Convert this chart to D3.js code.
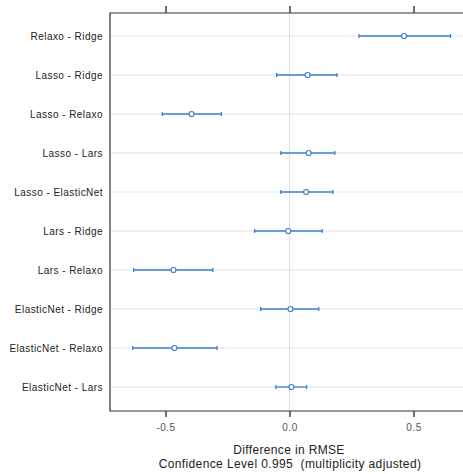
<!DOCTYPE html>
<html><head><meta charset="utf-8">
<script src="https://cdn.jsdelivr.net/npm/d3@7"></script>
<style>body{margin:0;background:#fff}svg{display:block}</style>
</head><body>
<script>
const comparisons = ["Relaxo - Ridge","Lasso - Ridge","Lasso - Relaxo","Lasso - Lars","Lasso - ElasticNet","Lars - Ridge","Lars - Relaxo","ElasticNet - Ridge","ElasticNet - Relaxo","ElasticNet - Lars"];
const estimates = [0.462, 0.073, -0.395, 0.077, 0.067, -0.005, -0.468, 0.004, -0.464, 0.008];
const lower = [0.280, -0.052, -0.513, -0.035, -0.035, -0.141, -0.628, -0.116, -0.632, -0.055];
const upper = [0.649, 0.191, -0.275, 0.183, 0.175, 0.132, -0.309, 0.118, -0.292, 0.069];
const xTicks = [-0.5, 0.0, 0.5];
const xTickLabels = ["-0.5", "0.0", "0.5"];
const xTitle = "Difference in RMSE";
const subTitle = "Confidence Level 0.995  (multiplicity adjusted)";

(function () {
const W = 463, H = 474;
const L = 110, T = 13, B = 411, R = 475;
const svg = d3.select("body").append("svg").attr("width", W).attr("height", H);
const x = d3.scaleLinear().domain([-0.5, 0.5]).range([165.5, 413.5]);
const y = d3.scalePoint().domain(comparisons).range([36, 387]);
const font = "'Liberation Sans', Arial, sans-serif";

// grid
svg.append("g").selectAll("line").data(comparisons).join("line")
  .attr("x1", L).attr("x2", R).attr("y1", d => y(d)).attr("y2", d => y(d))
  .attr("stroke", "#e3e3e3").attr("stroke-width", 1);
svg.append("line").attr("x1", x(0)).attr("x2", x(0)).attr("y1", T).attr("y2", B)
  .attr("stroke", "#e3e3e3").attr("stroke-width", 1.2);

// frame
svg.append("path").attr("d", `M${R},${T}H${L}V${B}H${R}`).attr("fill", "none")
  .attr("stroke", "#333").attr("stroke-width", 1.2);

// axes
const bot = svg.append("g").attr("transform", `translate(0,${B})`)
  .call(d3.axisBottom(x).tickValues(xTicks).tickFormat((d, i) => xTickLabels[i]).tickSize(6).tickPadding(7));
bot.select(".domain").remove();
bot.selectAll("line").attr("stroke", "#444").attr("stroke-width", 1.5);
bot.selectAll("text").attr("fill", "#555").style("font-family", font).style("font-size", "10px")
  .style("letter-spacing", "0.5px");
const topAx = svg.append("g").attr("transform", `translate(0,${T})`)
  .call(d3.axisTop(x).tickValues(xTicks).tickFormat("").tickSize(7));
topAx.select(".domain").remove();
topAx.selectAll("line").attr("stroke", "#444").attr("stroke-width", 1.5);

// y labels
svg.append("g").selectAll("text").data(comparisons).join("text")
  .attr("x", 103).attr("y", d => y(d)).attr("dy", "0.35em").attr("text-anchor", "end")
  .attr("fill", "#222").style("font-family", font).style("font-size", "10px")
  .style("letter-spacing", "0.45px").text(d => d);

// intervals
const col = "#3a80d2";
const g = svg.append("g");
comparisons.forEach((c, i) => {
  const yy = y(c);
  g.append("line").attr("x1", x(lower[i])).attr("x2", x(upper[i])).attr("y1", yy).attr("y2", yy)
    .attr("stroke", col).attr("stroke-width", 1.3);
  [lower[i], upper[i]].forEach(v => g.append("line").attr("x1", x(v)).attr("x2", x(v))
    .attr("y1", yy - 2).attr("y2", yy + 2).attr("stroke", col).attr("stroke-width", 1.3));
  g.append("circle").attr("cx", x(estimates[i])).attr("cy", yy).attr("r", 2.5)
    .attr("fill", "#fff").attr("stroke", col).attr("stroke-width", 1.2);
});

// titles
svg.append("text").attr("x", 289).attr("y", 454).attr("text-anchor", "middle")
  .attr("fill", "#222").style("font-family", font).style("font-size", "12px")
  .style("letter-spacing", "0.35px").text(xTitle);
svg.append("text").attr("x", 290).attr("y", 468).attr("text-anchor", "middle")
  .attr("fill", "#222").style("font-family", font).style("font-size", "12px")
  .style("letter-spacing", "0.38px").style("white-space", "pre").text(subTitle);
})();
</script>
</body></html>
